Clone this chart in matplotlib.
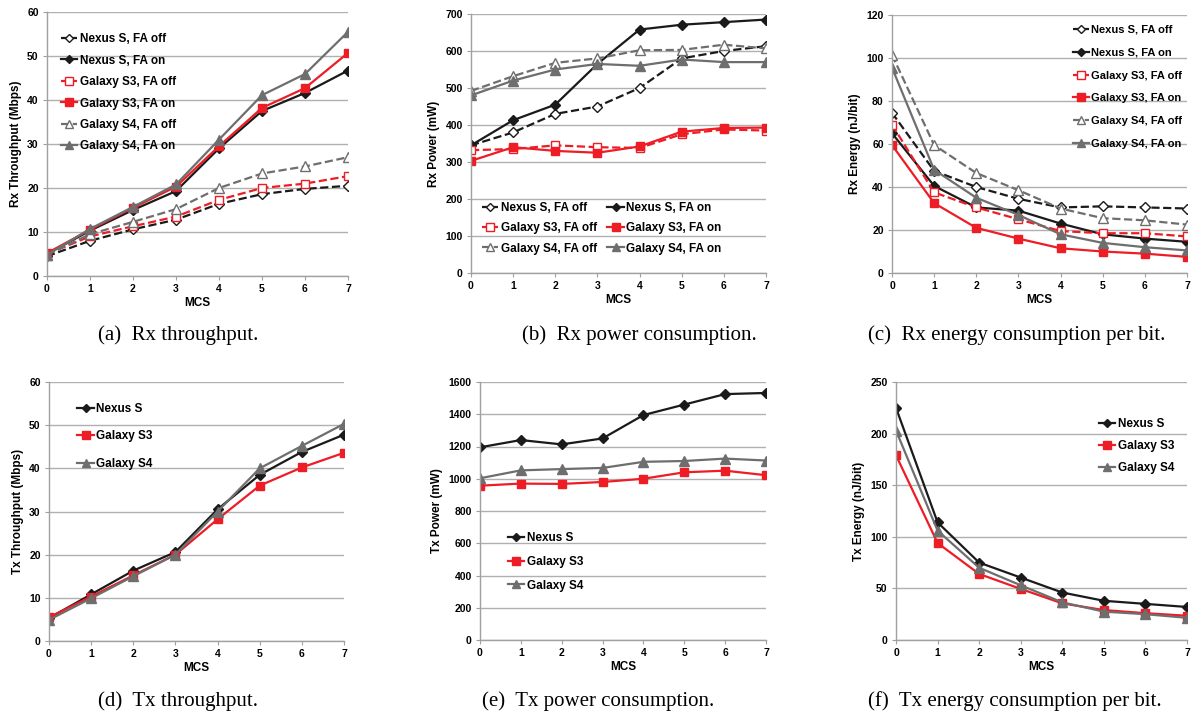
import matplotlib
matplotlib.use("Agg")
import matplotlib.pyplot as plt

mcs = [0, 1, 2, 3, 4, 5, 6, 7]

# (a) Rx throughput (Mbps)
rx_thr_nexus_off = [4.5, 8.0, 10.6, 12.8, 16.4, 18.6, 19.8, 20.5]
rx_thr_nexus_on = [5.0, 10.3, 15.0, 19.3, 29.0, 37.5, 41.6, 46.7]
rx_thr_s3_off = [5.0, 9.0, 11.3, 13.5, 17.3, 20.0, 21.0, 22.7]
rx_thr_s3_on = [5.2, 10.5, 15.5, 20.3, 29.5, 38.2, 42.7, 50.7]
rx_thr_s4_off = [4.8, 9.5, 12.3, 15.2, 20.0, 23.3, 24.9, 27.0]
rx_thr_s4_on = [4.8, 10.7, 15.7, 20.8, 31.0, 41.1, 45.9, 55.5]

# (b) Rx power (mW)
rx_pow_nexus_off = [345, 380, 430, 450, 500, 580, 600, 613]
rx_pow_nexus_on = [345, 413, 455, 565, 658, 671, 678, 685]
rx_pow_s3_off = [332, 335, 345, 340, 338, 375, 388, 385]
rx_pow_s3_on = [303, 340, 330, 325, 342, 382, 392, 393]
rx_pow_s4_off = [492, 532, 568, 580, 602, 603, 617, 607]
rx_pow_s4_on = [480, 520, 550, 565, 560, 577, 570, 570]

# (c) Rx energy (nJ/bit)
rx_en_nexus_off = [74.5, 47.5, 40.0, 34.5, 30.5, 31.0, 30.5, 30.0]
rx_en_nexus_on = [65.0, 40.5, 30.5, 29.0, 23.0, 18.0, 16.0, 14.5]
rx_en_s3_off = [69.0, 37.5, 30.5, 25.0, 19.5, 18.5, 18.5, 17.0]
rx_en_s3_on = [59.5, 32.5, 21.0, 16.0, 11.5, 10.0, 9.0, 7.5]
rx_en_s4_off = [101.5, 59.5, 46.5, 38.5, 30.0, 25.5, 24.5, 22.5]
rx_en_s4_on = [95.5, 48.0, 35.0, 27.0, 18.0, 14.0, 12.0, 10.5]

# (d) Tx throughput (Mbps)
tx_thr_nexus = [5.3, 10.8, 16.3, 20.6, 30.5, 38.5, 43.8, 47.8]
tx_thr_s3 = [5.5, 10.3, 15.2, 20.0, 28.2, 36.0, 40.2, 43.6]
tx_thr_s4 = [4.9, 9.9, 15.0, 20.0, 30.0, 40.0, 45.2, 50.3]

# (e) Tx power (mW)
tx_pow_nexus = [1195, 1240, 1213, 1250, 1395, 1460, 1525, 1532]
tx_pow_s3 = [957, 970, 968, 980, 1000, 1040, 1050, 1022]
tx_pow_s4 = [1003, 1052, 1060, 1067, 1105, 1110, 1125, 1113]

# (f) Tx energy (nJ/bit)
tx_en_nexus = [225, 114, 75, 60.5, 46, 38, 35, 32]
tx_en_s3 = [179, 94, 64, 49.5, 35.5, 29, 26, 23.5]
tx_en_s4 = [203, 106, 70, 53, 36.5, 27.5, 25, 21.5]

rx_labels = ["Nexus S, FA off", "Nexus S, FA on", "Galaxy S3, FA off",
             "Galaxy S3, FA on", "Galaxy S4, FA off", "Galaxy S4, FA on"]
tx_labels = ["Nexus S", "Galaxy S3", "Galaxy S4"]

captions = ["(a)  Rx throughput.", "(b)  Rx power consumption.",
            "(c)  Rx energy consumption per bit.", "(d)  Tx throughput.",
            "(e)  Tx power consumption.", "(f)  Tx energy consumption per bit."]

BLACK = "#1a1a1a"
RED = "#ee1c25"
GREY = "#6e6e6e"

SANS = "Liberation Sans"
SERIF = "Liberation Serif"

W, H = 1193, 715
fig = plt.figure(figsize=(W / 100, H / 100), dpi=100)


def add_ax(l, t, r, b):
    return fig.add_axes([l / W, 1 - b / H, (r - l) / W, (b - t) / H])


rx_styles = [
    dict(color=BLACK, ls="--", marker="D", mfc="white", ms=5),
    dict(color=BLACK, ls="-", marker="D", mfc=BLACK, ms=5),
    dict(color=RED, ls="--", marker="s", mfc="white", ms=6),
    dict(color=RED, ls="-", marker="s", mfc=RED, ms=6),
    dict(color=GREY, ls="--", marker="^", mfc="white", ms=6.5),
    dict(color=GREY, ls="-", marker="^", mfc=GREY, ms=6.5),
]
tx_styles = [
    dict(color=BLACK, ls="-", marker="D", mfc=BLACK, ms=5),
    dict(color=RED, ls="-", marker="s", mfc=RED, ms=6),
    dict(color=GREY, ls="-", marker="^", mfc=GREY, ms=6.5),
]


def style_ax(ax, ymax, ystep, ylabel):
    ax.set_xlim(0, 7)
    ax.set_ylim(0, ymax)
    ax.set_xticks(mcs)
    ax.set_yticks(range(0, ymax + 1, ystep))
    ax.grid(axis="y", color="#b0b0b0", lw=1.0)
    ax.set_axisbelow(True)
    for s in ["top", "right"]:
        ax.spines[s].set_visible(False)
    for s in ["left", "bottom"]:
        ax.spines[s].set_color("#a0a0a0")
        ax.spines[s].set_linewidth(1.0)
    ax.tick_params(axis="both", length=3, color="#a0a0a0", labelsize=7.5, pad=3)
    for lab in ax.get_xticklabels() + ax.get_yticklabels():
        lab.set_fontweight("bold")
        lab.set_family(SANS)
    ax.set_xlabel("MCS", fontsize=8.5, fontweight="bold", family=SANS, labelpad=2)
    ax.set_ylabel(ylabel, fontsize=8.5, fontweight="bold", family=SANS, labelpad=4)


def plot_series(ax, series, styles, labels):
    for y, st, lab in zip(series, styles, labels):
        ax.plot(mcs, y, lw=1.6, mew=1.0, mec=st["color"], label=lab,
                color=st["color"], ls=st["ls"], marker=st["marker"],
                mfc=st["mfc"], ms=st["ms"])


def legend(ax, size=8.5, **kw):
    return ax.legend(frameon=False, handlelength=1.4, handletextpad=0.2,
                     markerscale=0.85,
                     prop=dict(family=SANS, weight="bold", size=size), **kw)


# (a)
ax = add_ax(47, 12, 348, 276)
plot_series(ax, [rx_thr_nexus_off, rx_thr_nexus_on, rx_thr_s3_off, rx_thr_s3_on,
                 rx_thr_s4_off, rx_thr_s4_on], rx_styles, rx_labels)
style_ax(ax, 60, 10, "Rx Throughput (Mbps)")
legend(ax, size=8.5, loc="upper left", bbox_to_anchor=(0.01, 0.96),
       labelspacing=0.8)

# (b)
ax = add_ax(471, 14, 766, 273)
plot_series(ax, [rx_pow_nexus_off, rx_pow_nexus_on, rx_pow_s3_off, rx_pow_s3_on,
                 rx_pow_s4_off, rx_pow_s4_on], rx_styles, rx_labels)
style_ax(ax, 700, 100, "Rx Power (mW)")
h, l = ax.get_legend_handles_labels()
order = [0, 2, 4, 1, 3, 5]
ax.legend([h[i] for i in order], [l[i] for i in order], ncol=2, frameon=False,
          loc="lower left", bbox_to_anchor=(0.0, 0.03), handlelength=1.4,
          handletextpad=0.2, columnspacing=0.9, labelspacing=0.7,
          markerscale=0.85, prop=dict(family=SANS, weight="bold", size=8.5))

# (c)
ax = add_ax(892, 15, 1187, 273)
plot_series(ax, [rx_en_nexus_off, rx_en_nexus_on, rx_en_s3_off, rx_en_s3_on,
                 rx_en_s4_off, rx_en_s4_on], rx_styles, rx_labels)
style_ax(ax, 120, 20, "Rx Energy (nJ/bit)")
legend(ax, size=8.0, loc="upper left", bbox_to_anchor=(0.58, 1.0),
       labelspacing=1.15)

# (d)
ax = add_ax(49, 382, 344, 641)
plot_series(ax, [tx_thr_nexus, tx_thr_s3, tx_thr_s4], tx_styles, tx_labels)
style_ax(ax, 60, 10, "Tx Throughput (Mbps)")
legend(ax, loc="upper left", bbox_to_anchor=(0.06, 0.96), labelspacing=1.3)

# (e)
ax = add_ax(480, 382, 766, 640)
plot_series(ax, [tx_pow_nexus, tx_pow_s3, tx_pow_s4], tx_styles, tx_labels)
style_ax(ax, 1600, 200, "Tx Power (mW)")
legend(ax, loc="upper left", bbox_to_anchor=(0.06, 0.46), labelspacing=1.0)

# (f)
ax = add_ax(896, 382, 1187, 640)
plot_series(ax, [tx_en_nexus, tx_en_s3, tx_en_s4], tx_styles, tx_labels)
style_ax(ax, 250, 50, "Tx Energy (nJ/bit)")
legend(ax, loc="upper left", bbox_to_anchor=(0.66, 0.90), labelspacing=0.85)

cap_pos = [(98, 335), (522, 335), (868, 335), (98, 701), (482, 701), (868, 701)]
for (x, y), t in zip(cap_pos, captions):
    fig.text(x / W, 1 - y / H, t, ha="left", va="center", family=SERIF,
             fontsize=15)

fig.savefig("out.png", dpi=100)
